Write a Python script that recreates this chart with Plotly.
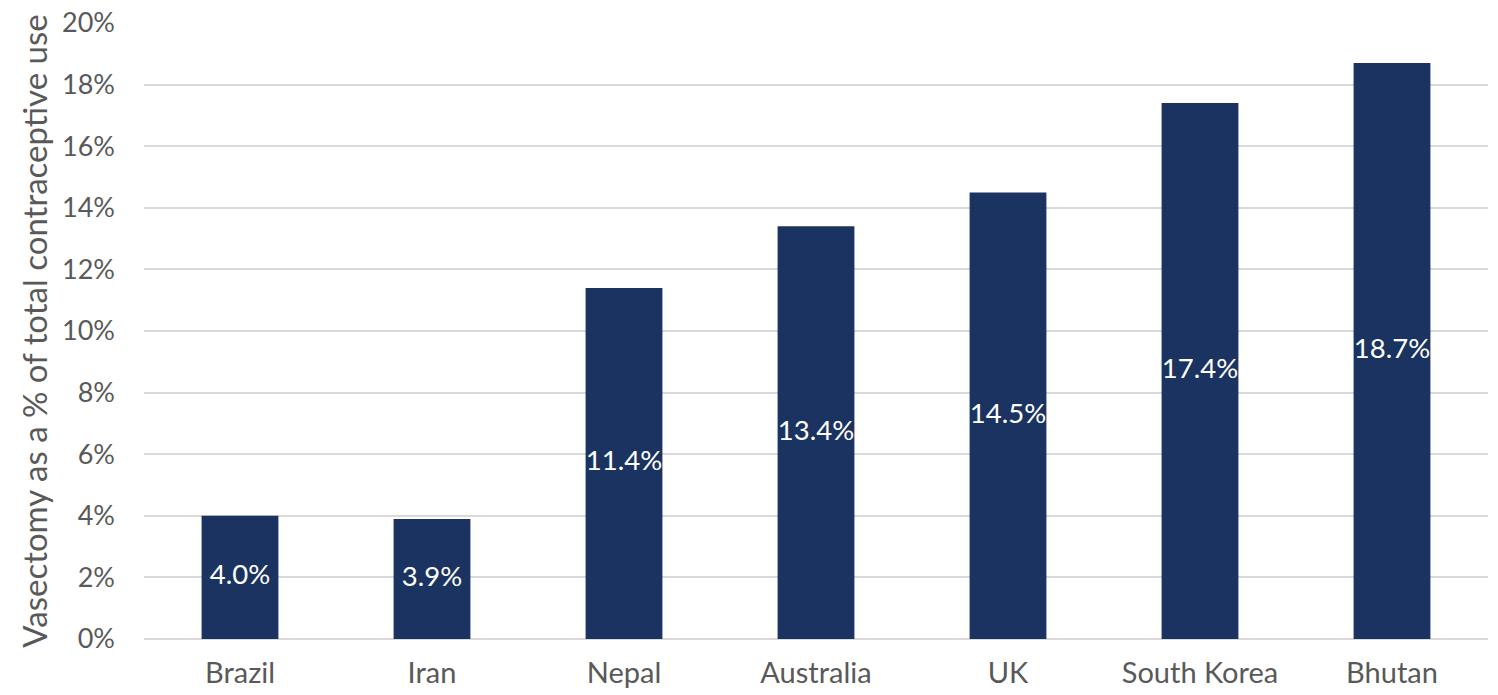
import plotly.graph_objects as go

# Vasectomy share of total contraceptive use, by country
countries = ["Brazil", "Iran", "Nepal", "Australia", "UK", "South Korea", "Bhutan"]
vasectomy_pct = [4.0, 3.9, 11.4, 13.4, 14.5, 17.4, 18.7]
y_ticks = [0, 2, 4, 6, 8, 10, 12, 14, 16, 18, 20]
y_tick_labels = [f"{t}%" for t in y_ticks]

FONT = "Lato, 'Open Sans', sans-serif"
GREY = "#595959"
NAVY = "#1B3360"

value_labels = [f"{v:.1f}%" for v in vasectomy_pct]

fig = go.Figure()

fig.add_trace(
    go.Bar(
        x=countries,
        y=vasectomy_pct,
        width=0.4,
        marker=dict(color=NAVY, line=dict(width=0)),
        hoverinfo="x+y",
    )
)

# Value labels centred vertically within each bar
fig.add_trace(
    go.Scatter(
        x=countries,
        y=[v / 2 for v in vasectomy_pct],
        mode="text",
        text=value_labels,
        textposition="middle center",
        textfont=dict(family=FONT, size=27.5, color="white"),
        hoverinfo="skip",
        cliponaxis=False,
    )
)

fig.update_layout(
    width=1498,
    height=695,
    margin=dict(l=144, r=10, t=23, b=56),
    paper_bgcolor="white",
    plot_bgcolor="white",
    showlegend=False,
    font=dict(family=FONT, size=27, color=GREY),
)

fig.update_xaxes(
    automargin=False,
    showgrid=False,
    showline=False,
    ticks="",
    tickfont=dict(family=FONT, size=29, color=GREY),
    ticklabelstandoff=14,
)

fig.update_yaxes(
    automargin=False,
    range=[0, 20],
    tickvals=y_ticks,
    ticktext=y_tick_labels,
    showgrid=True,
    gridcolor="#D9D9D9",
    gridwidth=2,
    zeroline=True,
    zerolinecolor="#D9D9D9",
    zerolinewidth=2,
    showline=False,
    ticks="",
    tickfont=dict(family=FONT, size=27, color=GREY),
    ticklabelstandoff=28,
    title=dict(
        text="Vasectomy as a % of total contraceptive use",
        font=dict(family=FONT, size=33, color=GREY),
        standoff=4,
    ),
)

fig.write_html("out.html")
